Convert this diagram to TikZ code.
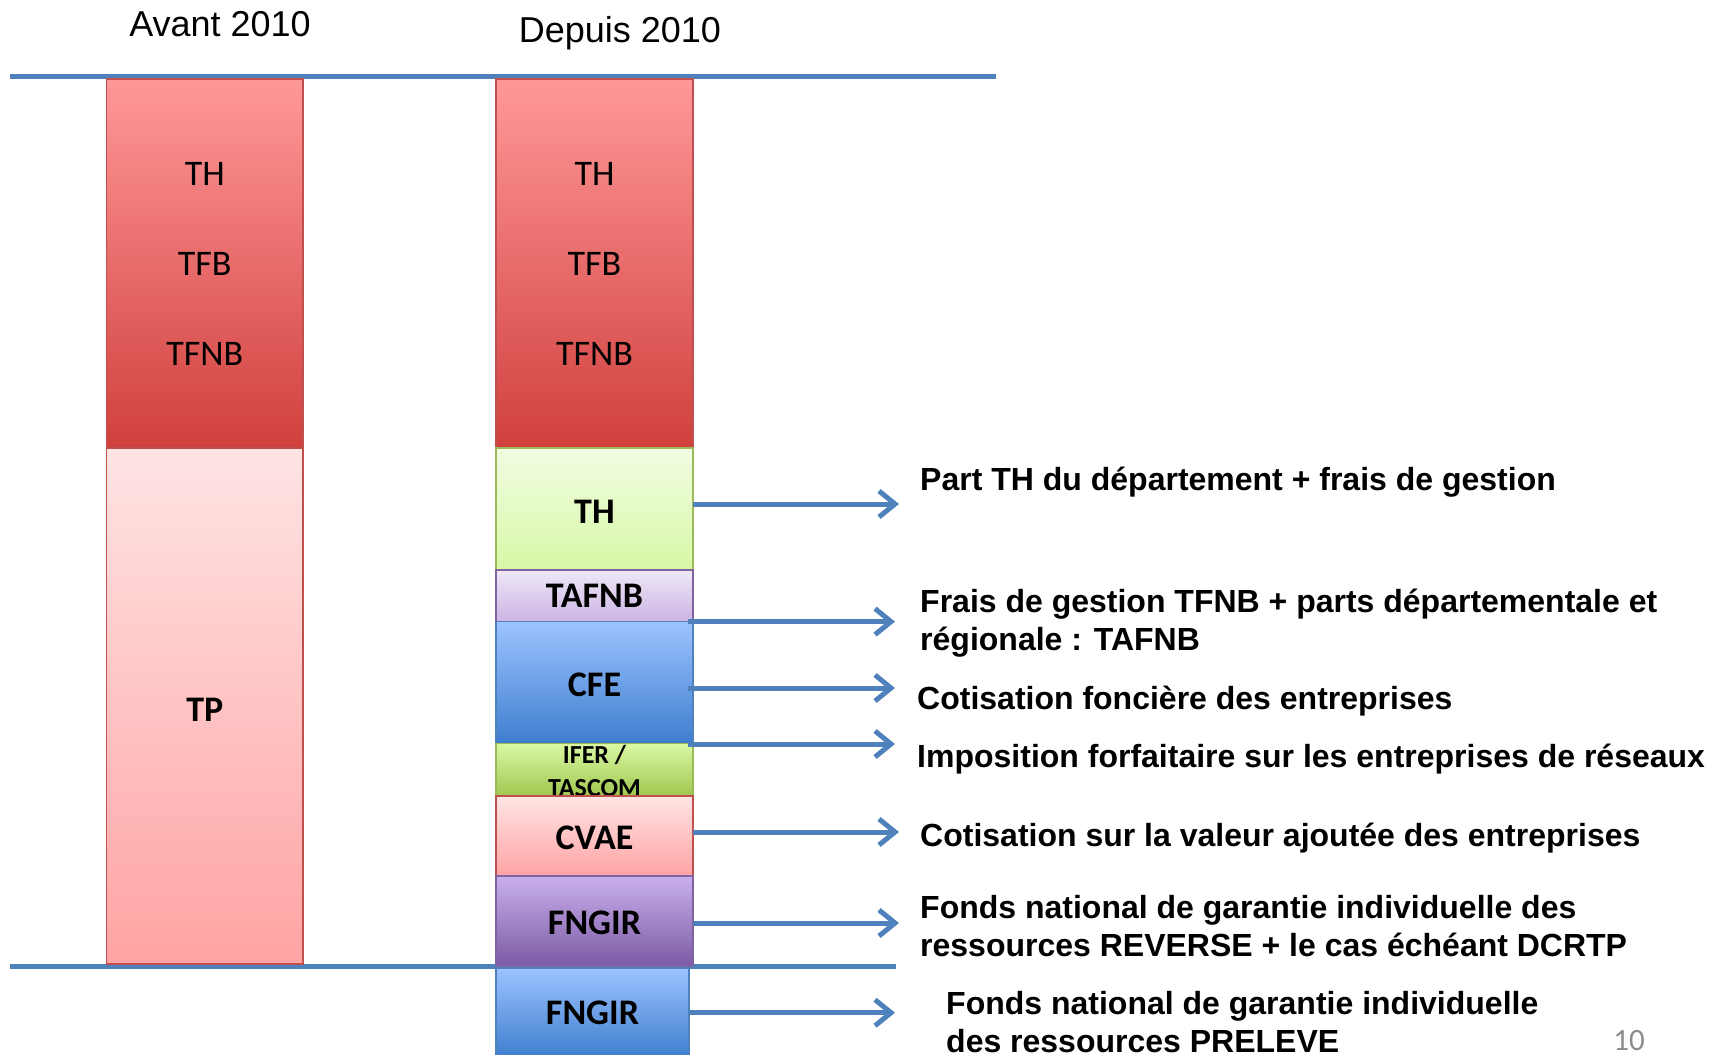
\documentclass[tikz,border=0pt]{standalone}
\usepackage{fontspec}
\setmainfont{Liberation Sans}
\newfontfamily\calfont{Carlito}
\usetikzlibrary{arrows.meta,calc}
\definecolor{lineblue}{HTML}{4F81BD}
\definecolor{redbd}{HTML}{C0504D}
\definecolor{greenbd}{HTML}{9BBB59}
\definecolor{purplebd}{HTML}{8064A2}
\definecolor{bluebd}{HTML}{4F81BD}
\definecolor{redtop}{HTML}{FF9898}
\definecolor{redbot}{HTML}{D0403D}
\definecolor{pinktop}{HTML}{FFE4E4}
\definecolor{pinkbot}{HTML}{FFA3A3}
\definecolor{greentop}{HTML}{F1FCE2}
\definecolor{greenbot}{HTML}{D8F8A6}
\definecolor{lilactop}{HTML}{EFE8F7}
\definecolor{lilacbot}{HTML}{CBB3E3}
\definecolor{bluetop}{HTML}{9DC3FF}
\definecolor{bluebot}{HTML}{3E7ECE}
\definecolor{limetop}{HTML}{DBF8A3}
\definecolor{limebot}{HTML}{9FC74F}
\definecolor{purtop}{HTML}{C8B0EC}
\definecolor{purbot}{HTML}{7D5AA5}
\definecolor{pagegray}{HTML}{8C8C8C}
\tikzset{
  blk/.style={rectangle, draw, line width=1.5pt, inner sep=0pt, outer sep=0pt},
  boxtxt/.style={font=\calfont\fontsize{36}{40}\selectfont},
  boxbold/.style={font=\calfont\bfseries\fontsize{36}{40}\selectfont},
  desc/.style={anchor=base west, align=left, inner sep=0pt, font=\bfseries\fontsize{32}{37.5}\selectfont},
  head/.style={anchor=base, inner sep=0pt, font=\fontsize{36}{40}\selectfont},
  rule/.style={draw=lineblue, line width=5pt},
  arr/.style={draw=lineblue, line width=5pt, -{Straight Barb[length=16pt,width=26pt]}}
}
\begin{document}
\begin{tikzpicture}[x=1pt,y=-1pt]
\useasboundingbox (0,0) rectangle (1722,1055);
% headings
\node[head] (h1) at (220,36.7) {Avant 2010};
\node[head] (h2) at (620,42.7) {Depuis 2010};
% separator lines
\coordinate (t1) at (10,76.7);
\coordinate (t2) at (996,76.7);
\coordinate (b1) at (10,966.7);
\coordinate (b2) at (896,966.7);
\draw[rule] (t1) -- (t2);
\draw[rule] (b1) -- (b2);
% left column
\node[blk, draw=redbd, top color=redtop, bottom color=redbot, minimum width=196.5pt, minimum height=369pt] (redL) at (204.75,263.5) {};
\node[blk, draw=redbd, top color=pinktop, bottom color=pinkbot, minimum width=196.5pt, minimum height=516pt] (tpL) at (204.75,706) {};
\node[boxbold] (tp) at (204.75,710) {TP};
\node[boxtxt] (thL) at (204.75,173.5) {TH};
\node[boxtxt] (tfbL) at (204.75,263.6) {TFB};
\node[boxtxt] (tfnbL) at (204.75,353.6) {TFNB};
% right column
\node[blk, draw=redbd, top color=redtop, bottom color=redbot, minimum width=197pt, minimum height=369pt] (redR) at (594.5,263.5) {};
\node[boxtxt] (thR) at (594.5,173.5) {TH};
\node[boxtxt] (tfbR) at (594.5,263.6) {TFB};
\node[boxtxt] (tfnbR) at (594.5,353.6) {TFNB};
\node[blk, draw=greenbd, top color=greentop, bottom color=greenbot, minimum width=197pt, minimum height=122pt] (thG) at (594.5,509) {};
\node[boxbold] (thGt) at (594.5,511.5) {TH};
\node[blk, boxbold, draw=purplebd, top color=lilactop, bottom color=lilacbot, minimum width=197pt, minimum height=51.6pt] (tafnb) at (594.5,595.8) {TAFNB};
\node[blk, draw=bluebd, top color=bluetop, bottom color=bluebot, minimum width=197pt, minimum height=121.9pt] (cfe) at (594.5,682.55) {};
\node[boxbold] (cfet) at (594.5,685) {CFE};
\node[blk, draw=greenbd, top color=limetop, bottom color=limebot, minimum width=197pt, minimum height=52.5pt] (ifer) at (594.5,769.75) {};
\node[anchor=base, align=center, inner sep=0pt, font=\calfont\bfseries\fontsize{26}{32.7}\selectfont] (ifertxt) at (594.5,796) {IFER /\\TASCOM};
\node[blk, draw=redbd, top color=pinktop, bottom color=pinkbot, minimum width=197pt, minimum height=80pt] (cvae) at (594.5,836) {};
\node[boxbold] (cvaet) at (594.5,838) {CVAE};
\node[blk, draw=purplebd, top color=purtop, bottom color=purbot, minimum width=197pt, minimum height=90pt] (fng1) at (594.5,921) {};
\node[boxbold] (fng1t) at (594.5,922.5) {FNGIR};
\node[blk, boxbold, draw=bluebd, top color=bluetop, bottom color=bluebot, minimum width=193pt, minimum height=89pt] (fng2) at (592.5,1012.5) {FNGIR};
% arrow ends
\coordinate (a1) at (899,504);
\coordinate (a2) at (895,621.6);
\coordinate (a3) at (895,688);
\coordinate (a4) at (895,744);
\coordinate (a5) at (899,832);
\coordinate (a6) at (899,923);
\coordinate (a7) at (895,1012.7);
\draw[arr] (thG.east |- a1) -- (a1);
\draw[arr] ($(tafnb.east |- a2)+(-5,0)$) -- (a2);
\draw[arr] ($(cfe.east |- a3)+(-5,0)$) -- (a3);
\draw[arr] ($(ifer.east |- a4)+(-5,0)$) -- (a4);
\draw[arr] (cvae.east |- a5) -- (a5);
\draw[arr] (fng1.east |- a6) -- (a6);
\draw[arr] (fng2.east |- a7) -- (a7);
% descriptions (base = baseline of last line)
\node[desc] (d1) at (920,490) {Part TH du département + frais de gestion};
\node[desc] (d2) at (920,650) {Frais de gestion TFNB + parts départementale et\\régionale : TAFNB};
\node[desc] (d3) at (917,709) {Cotisation foncière des entreprises};
\node[desc] (d4) at (917,767) {Imposition forfaitaire sur les entreprises de réseaux};
\node[desc] (d5) at (920,846) {Cotisation sur la valeur ajoutée des entreprises};
\node[desc] (d6) at (920,956) {Fonds national de garantie individuelle des\\ressources REVERSE + le cas échéant DCRTP};
\node[desc] (d7) at (946,1052) {Fonds national de garantie individuelle\\des ressources PRELEVE};
% page number
\node[anchor=base, inner sep=0pt, text=pagegray, font=\calfont\fontsize{31}{34}\selectfont] (pg) at (1629,1050) {10};
\end{tikzpicture}
\end{document}
